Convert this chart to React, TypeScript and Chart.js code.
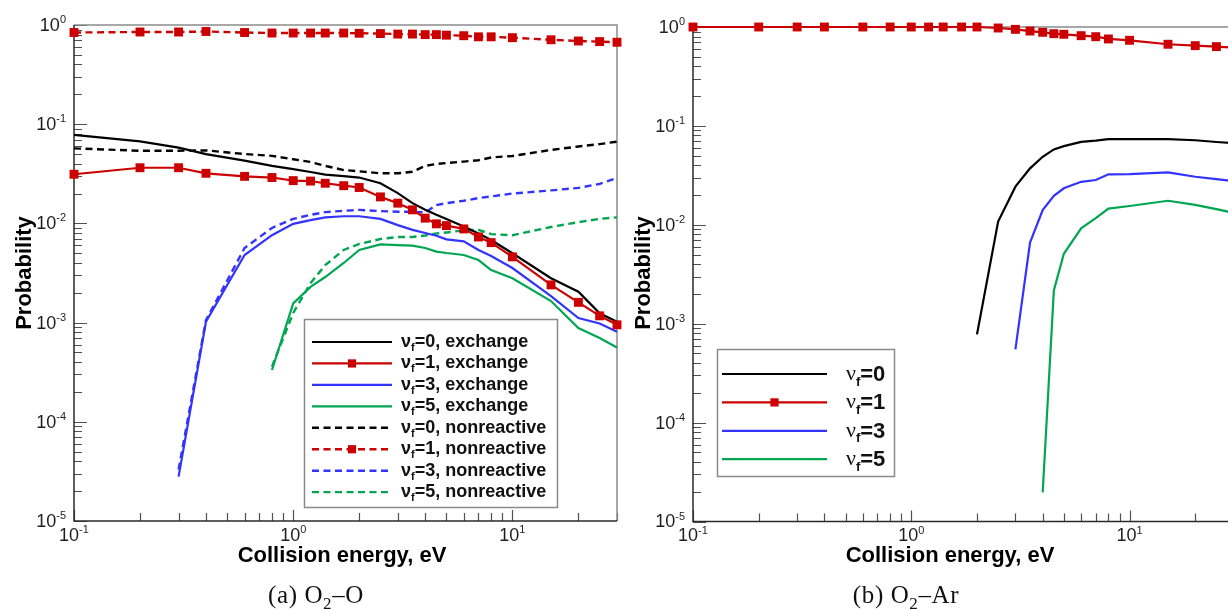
import React, { useEffect, useRef } from "react";
import { Chart, registerables } from "chart.js";
Chart.register(...registerables);

// Collision energies (eV)
const energies = [0.1, 0.2, 0.3, 0.4, 0.6, 0.8, 1, 1.2, 1.4, 1.7, 2, 2.5, 3, 3.5, 4, 4.5, 5, 6, 7, 8, 10, 15, 20, 25, 30];

// (a) O2–O
const oExch0 = [0.078, 0.067, 0.058, 0.05, 0.043, 0.038, 0.0353, 0.033, 0.031, 0.03, 0.029, 0.0254, 0.0202, 0.016, 0.0137, 0.0122, 0.0111, 0.0093, 0.0079, 0.0068, 0.005, 0.0028, 0.00205, 0.00124, 0.00102];
const oExch1 = [0.0313, 0.0364, 0.0364, 0.032, 0.0298, 0.029, 0.027, 0.0267, 0.0254, 0.024, 0.023, 0.0185, 0.016, 0.0137, 0.0113, 0.0099, 0.0095, 0.0088, 0.0073, 0.0064, 0.0046, 0.0024, 0.0016, 0.00117, 0.00095];
const oExch3 = [null, null, 2.8e-5, 1.02e-3, 4.8e-3, 7.6e-3, 9.9e-3, 0.0108, 0.0115, 0.0118, 0.0118, 0.0111, 0.0096, 0.0086, 0.008, 0.0075, 0.0069, 0.0066, 0.0054, 0.0047, 0.00355, 0.00185, 0.00111, 0.00098, 0.00081];
const oExch5 = [null, null, null, null, null, 3.33e-4, 1.56e-3, 2.29e-3, 2.88e-3, 3.99e-3, 5.4e-3, 6.15e-3, 6.05e-3, 5.96e-3, 5.65e-3, 5.2e-3, 5.03e-3, 4.8e-3, 4.27e-3, 3.39e-3, 2.8e-3, 1.65e-3, 8.8e-4, 7e-4, 5.6e-4];
const oNonr0 = [0.057, 0.054, 0.054, 0.0545, 0.05, 0.048, 0.0443, 0.0416, 0.038, 0.0345, 0.0335, 0.032, 0.032, 0.0332, 0.038, 0.0397, 0.0406, 0.042, 0.0433, 0.0462, 0.0478, 0.055, 0.0596, 0.063, 0.0667];
const oNonr1 = [0.84, 0.85, 0.85, 0.86, 0.84, 0.83, 0.83, 0.83, 0.83, 0.83, 0.825, 0.82, 0.81, 0.81, 0.8, 0.8, 0.79, 0.78, 0.76, 0.76, 0.745, 0.71, 0.69, 0.68, 0.67];
const oNonr3 = [null, null, 3.3e-5, 1.06e-3, 5.65e-3, 9.0e-3, 0.0111, 0.0122, 0.013, 0.0134, 0.0137, 0.0133, 0.0131, 0.0131, 0.0129, 0.0153, 0.016, 0.0169, 0.018, 0.0187, 0.02, 0.0215, 0.0228, 0.025, 0.0287];
const oNonr5 = [null, null, null, null, null, 3.6e-4, 1.25e-3, 2.5e-3, 3.8e-3, 5.4e-3, 6.2e-3, 6.96e-3, 7.3e-3, 7.3e-3, 7.55e-3, 7.9e-3, 8.1e-3, 8.5e-3, 8.6e-3, 7.8e-3, 7.6e-3, 9.2e-3, 0.0103, 0.0111, 0.0115];

// (b) O2–Ar
const arV0 = [null, null, null, null, null, null, null, null, null, null, 7.8e-4, 0.0108, 0.0243, 0.0372, 0.0487, 0.0578, 0.0624, 0.069, 0.071, 0.0734, 0.0734, 0.0734, 0.0716, 0.0687, 0.067];
const arV1 = [1, 1, 1, 1, 1, 1, 1, 1, 1, 1, 1, 0.977, 0.947, 0.91, 0.884, 0.856, 0.844, 0.817, 0.798, 0.757, 0.734, 0.669, 0.648, 0.633, 0.62];
const arV3 = [null, null, null, null, null, null, null, null, null, null, null, null, 5.5e-4, 6.6e-3, 0.0141, 0.0196, 0.0234, 0.0272, 0.0284, 0.0324, 0.0325, 0.0339, 0.0306, 0.029, 0.0277];
const arV5 = [null, null, null, null, null, null, null, null, null, null, null, null, null, null, 1.97e-5, 2.17e-3, 5.09e-3, 9.2e-3, 0.0117, 0.0146, 0.0155, 0.0175, 0.0159, 0.0144, 0.0132];

// axis ticks
const xDecades = [-1, 0, 1];
const yDecades = [-5, -4, -3, -2, -1, 0];
const xTitle = "Collision energy, eV";
const yTitle = "Probability";
const captionA = ["(a) O", "2", "–O"];
const captionB = ["(b) O", "2", "–Ar"];

const RED = "#cc0000";
const BLUE = "#3333ff";
const GREEN = "#00a651";
const BLACK = "#000000";
const SANS = '"Liberation Sans", Arial, sans-serif';
const SERIF = '"Liberation Serif", "Times New Roman", serif';

const pts = (vals: (number | null)[]) =>
  energies.map((e, i) => ({ x: e, y: vals[i] })).filter((p) => p.y !== null);

const dash = [7, 4.5];

function ds(label: string, vals: (number | null)[], color: string, dashed: boolean, marker: boolean, order: number) {
  return {
    label,
    data: pts(vals),
    borderColor: color,
    backgroundColor: color,
    borderWidth: dashed ? 2.4 : 2.2,
    borderDash: dashed ? dash : [],
    pointStyle: "rect",
    pointRadius: marker ? 6.3 : 0,
    pointHoverRadius: marker ? 6.3 : 0,
    pointBackgroundColor: color,
    pointBorderColor: color,
    pointBorderWidth: 0,
    tension: 0,
    clip: false as any,
    order,
  };
}

function drawPow(ctx: CanvasRenderingContext2D, base: string, exp: string, x: number, y: number, align: "right" | "center") {
  ctx.font = `18px ${SANS}`;
  const bw = ctx.measureText(base).width;
  ctx.font = `11px ${SANS}`;
  const ew = ctx.measureText(exp).width;
  const total = bw + ew;
  const x0 = align === "right" ? x - total : x - total / 2;
  ctx.textAlign = "left";
  ctx.textBaseline = "middle";
  ctx.fillStyle = "#1e1e1e";
  ctx.font = `18px ${SANS}`;
  ctx.fillText(base, x0, y);
  ctx.font = `11px ${SANS}`;
  ctx.fillText(exp, x0 + bw, y - 6);
}

type Seg = { t: string; font: string; dy: number };
type LegendCfg = {
  box: [number, number, number, number];
  rowY0: number;
  rowStep: number;
  sx0: number;
  sx1: number;
  tx: number;
  rows: Seg[][];
};

function decor(opts: { xTitleX: number; xTitleY: number; yTitleX: number; yTitleY: number; legend: LegendCfg }) {
  return {
    id: "decor",
    beforeDatasetsDraw(chart: any) {
      const { ctx, chartArea: ca, scales } = chart;
      const xs = scales.x;
      const ys = scales.y;
      ctx.save();
      ctx.strokeStyle = "#505050";
      ctx.lineWidth = 1.2;
      ctx.beginPath();
      for (const e of xDecades) {
        for (let m = 1; m <= 9; m++) {
          const v = m * Math.pow(10, e);
          if (v < xs.min * 0.999 || v > xs.max * 1.001) continue;
          const px = Math.round(xs.getPixelForValue(v)) + 0.5;
          const len = m === 1 ? 11 : 8;
          ctx.moveTo(px, ca.bottom);
          ctx.lineTo(px, ca.bottom - len);
        }
      }
      for (const e of yDecades) {
        for (let m = 1; m <= 9; m++) {
          const v = m * Math.pow(10, e);
          if (v < ys.min * 0.999 || v > ys.max * 1.001) continue;
          const py = Math.round(ys.getPixelForValue(v)) + 0.5;
          const len = m === 1 ? 13 : 8;
          ctx.moveTo(ca.left, py);
          ctx.lineTo(ca.left + len, py);
        }
      }
      ctx.stroke();
      // frame
      ctx.lineWidth = 1.5;
      ctx.strokeStyle = "#8c8c8c";
      ctx.beginPath();
      ctx.moveTo(ca.left, ca.top);
      ctx.lineTo(ca.right, ca.top);
      ctx.lineTo(ca.right, ca.bottom);
      ctx.stroke();
      ctx.strokeStyle = "#2a2a2a";
      ctx.beginPath();
      ctx.moveTo(ca.left, ca.top);
      ctx.lineTo(ca.left, ca.bottom);
      ctx.lineTo(ca.right, ca.bottom);
      ctx.stroke();
      ctx.restore();
    },
    afterDraw(chart: any) {
      const { ctx, chartArea: ca, scales } = chart;
      const xs = scales.x;
      const ys = scales.y;
      ctx.save();
      for (const e of yDecades) {
        drawPow(ctx, "10", String(e), ca.left - 8, ys.getPixelForValue(Math.pow(10, e)) + 1, "right");
      }
      for (const e of xDecades) {
        drawPow(ctx, "10", String(e), xs.getPixelForValue(Math.pow(10, e)), ca.bottom + 15, "center");
      }
      ctx.fillStyle = "#000";
      ctx.font = `bold 22px ${SANS}`;
      ctx.textAlign = "center";
      ctx.textBaseline = "middle";
      ctx.fillText(xTitle, opts.xTitleX, opts.xTitleY);
      ctx.save();
      ctx.translate(opts.yTitleX, opts.yTitleY);
      ctx.rotate(-Math.PI / 2);
      ctx.fillText(yTitle, 0, 0);
      ctx.restore();

      // legend
      const L = opts.legend;
      const [bx0, by0, bx1, by1] = L.box;
      ctx.fillStyle = "#fff";
      ctx.fillRect(bx0, by0, bx1 - bx0, by1 - by0);
      ctx.strokeStyle = "#8a8a8a";
      ctx.lineWidth = 1.5;
      ctx.strokeRect(bx0 + 0.5, by0 + 0.5, bx1 - bx0, by1 - by0);
      chart.data.datasets.forEach((d: any, i: number) => {
        const y = L.rowY0 + i * L.rowStep;
        ctx.save();
        ctx.strokeStyle = d.borderColor;
        ctx.lineWidth = d.borderWidth;
        ctx.setLineDash(d.borderDash || []);
        ctx.beginPath();
        ctx.moveTo(L.sx0, y);
        ctx.lineTo(L.sx1, y);
        ctx.stroke();
        ctx.restore();
        if (d.pointRadius > 0) {
          const s = d.pointRadius * Math.SQRT1_2 * 0.92;
          ctx.fillStyle = d.pointBackgroundColor;
          ctx.fillRect((L.sx0 + L.sx1) / 2 - s, y - s, 2 * s, 2 * s);
        }
        let x = L.tx;
        ctx.fillStyle = "#111";
        ctx.textAlign = "left";
        ctx.textBaseline = "middle";
        for (const sg of L.rows[i]) {
          ctx.font = sg.font;
          ctx.fillText(sg.t, x, y + sg.dy);
          x += ctx.measureText(sg.t).width;
        }
      });
      ctx.restore();
    },
  };
}

function baseOptions(padding: any, xmax: number) {
  return {
    animation: false as const,
    responsive: false,
    maintainAspectRatio: false,
    layout: { padding },
    scales: {
      x: { type: "logarithmic" as const, min: 0.1, max: xmax, display: false },
      y: { type: "logarithmic" as const, min: 1e-5, max: 1, display: false },
    },
    plugins: { legend: { display: false }, tooltip: { enabled: false } },
    events: [] as any,
  };
}

const leftRowsText = ["=0, exchange", "=1, exchange", "=3, exchange", "=5, exchange", "=0, nonreactive", "=1, nonreactive", "=3, nonreactive", "=5, nonreactive"];
const rightRowsText = ["=0", "=1", "=3", "=5"];

export default function App() {
  const leftRef = useRef<HTMLCanvasElement>(null);
  const rightRef = useRef<HTMLCanvasElement>(null);

  useEffect(() => {
    const leftDatasets = [
      ds("νf=0, exchange", oExch0, BLACK, false, false, 3),
      ds("νf=1, exchange", oExch1, RED, false, true, 0),
      ds("νf=3, exchange", oExch3, BLUE, false, false, 4),
      ds("νf=5, exchange", oExch5, GREEN, false, false, 5),
      ds("νf=0, nonreactive", oNonr0, BLACK, true, false, 6),
      ds("νf=1, nonreactive", oNonr1, RED, true, true, 1),
      ds("νf=3, nonreactive", oNonr3, BLUE, true, false, 7),
      ds("νf=5, nonreactive", oNonr5, GREEN, true, false, 8),
    ];
    const rightDatasets = [
      ds("νf=0", arV0, BLACK, false, false, 2),
      ds("νf=1", arV1, RED, false, true, 0),
      ds("νf=3", arV3, BLUE, false, false, 3),
      ds("νf=5", arV5, GREEN, false, false, 4),
    ];
    const leftLegend: LegendCfg = {
      box: [304, 319, 557, 507],
      rowY0: 342,
      rowStep: 21.45,
      sx0: 312,
      sx1: 392,
      tx: 401,
      rows: leftRowsText.map((t) => [
        { t: "ν", font: `bold 18px ${SANS}`, dy: 0 },
        { t: "f", font: `bold 11px ${SANS}`, dy: 6 },
        { t, font: `bold 18px ${SANS}`, dy: 0 },
      ]),
    };
    const rightLegend: LegendCfg = {
      box: [97, 349, 274, 476],
      rowY0: 374,
      rowStep: 28.4,
      sx0: 102,
      sx1: 207,
      tx: 226,
      rows: rightRowsText.map((t) => [
        { t: "ν", font: `22px ${SERIF}`, dy: 0 },
        { t: "f", font: `bold 13px ${SANS}`, dy: 8 },
        { t, font: `bold 22px ${SANS}`, dy: 1 },
      ]),
    };
    const c1 = new Chart(leftRef.current as HTMLCanvasElement, {
      type: "line",
      data: { datasets: leftDatasets as any },
      options: baseOptions({ left: 74, right: 23, top: 25, bottom: 89 }, 30) as any,
      plugins: [decor({ xTitleX: 342, xTitleY: 556, yTitleX: 25, yTitleY: 273, legend: leftLegend }) as any],
    });
    const c2 = new Chart(rightRef.current as HTMLCanvasElement, {
      type: "line",
      data: { datasets: rightDatasets as any },
      options: baseOptions({ left: 73, right: 6, top: 27, bottom: 88.5 }, 30) as any,
      plugins: [decor({ xTitleX: 330, xTitleY: 556, yTitleX: 24, yTitleY: 273, legend: rightLegend }) as any],
    });
    return () => {
      c1.destroy();
      c2.destroy();
    };
  }, []);

  const capStyle: React.CSSProperties = {
    position: "absolute",
    top: 581,
    fontFamily: SERIF,
    fontSize: 25,
    letterSpacing: 0.6,
    color: "#111",
    whiteSpace: "nowrap",
    transform: "translateX(-50%)",
    lineHeight: "28px",
  };

  return (
    <div style={{ position: "fixed", left: 0, top: 0, width: 1228, height: 610, overflow: "hidden", background: "#fff" }}>
      <canvas ref={leftRef} width={640} height={610} style={{ position: "absolute", left: 0, top: 0 }} />
      <canvas ref={rightRef} width={620} height={610} style={{ position: "absolute", left: 620, top: 0 }} />
      <div style={{ ...capStyle, left: 316 }}>
        {captionA[0]}
        <sub style={{ fontSize: 17 }}>{captionA[1]}</sub>
        {captionA[2]}
      </div>
      <div style={{ ...capStyle, left: 906 }}>
        {captionB[0]}
        <sub style={{ fontSize: 17 }}>{captionB[1]}</sub>
        {captionB[2]}
      </div>
    </div>
  );
}
